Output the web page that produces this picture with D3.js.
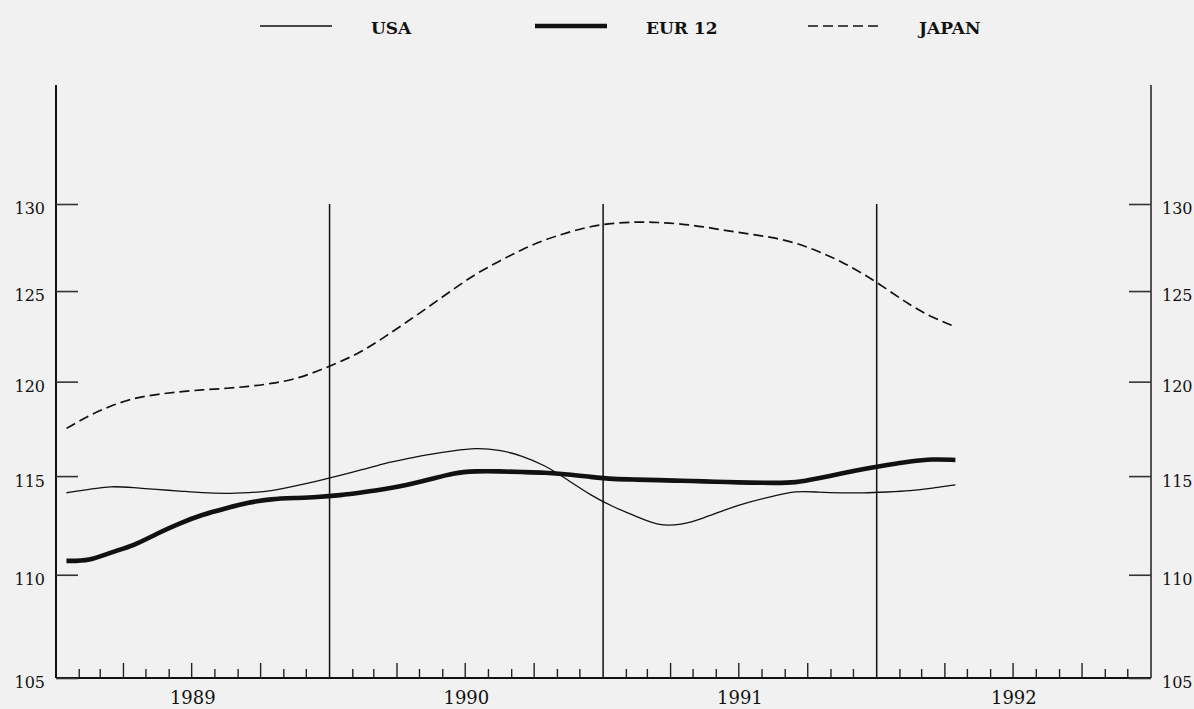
<!DOCTYPE html>
<html>
<head>
<meta charset="utf-8">
<script src="https://cdn.jsdelivr.net/npm/d3@7"></script>
<style>
  body { margin: 0; background: #f1f1f1; }
  svg { display: block; }
  text { font-family: "DejaVu Serif", "Liberation Serif", serif; fill: #111; }
</style>
</head>
<body>
<svg id="chart" width="1194" height="709"></svg>
<script>
// monthly index values, Jan 1989 - Apr 1992
var startMonth = new Date(1989, 0, 15);
var usa = [114.14, 114.32, 114.49, 114.40, 114.31, 114.23, 114.14, 114.09, 114.14, 114.22, 114.48, 114.74,
           115.03, 115.35, 115.66, 115.91, 116.14, 116.32, 116.47, 116.38, 116.06, 115.57, 114.80, 114.02,
           113.40, 112.92, 112.45, 112.49, 112.84, 113.31, 113.67, 113.96, 114.24, 114.17, 114.13, 114.13,
           114.18, 114.23, 114.37, 114.55];
var eur12 = [110.69, 110.69, 111.12, 111.45, 112.05, 112.58, 113.02, 113.34, 113.65, 113.82, 113.87, 113.91,
             114.01, 114.17, 114.32, 114.55, 114.82, 115.17, 115.26, 115.25, 115.21, 115.18, 115.09, 114.96,
             114.84, 114.82, 114.79, 114.76, 114.73, 114.69, 114.66, 114.65, 114.65, 114.88, 115.14, 115.37,
             115.58, 115.77, 115.89, 115.84];
var japan = [117.50, 118.21, 118.70, 119.12, 119.31, 119.46, 119.56, 119.63, 119.74, 119.89, 120.12, 120.55,
             121.07, 121.67, 122.43, 123.29, 124.17, 125.10, 125.98, 126.68, 127.38, 127.92, 128.35, 128.70,
             128.89, 128.96, 128.93, 128.84, 128.68, 128.44, 128.26, 128.06, 127.75, 127.27, 126.67, 125.96,
             125.10, 124.19, 123.53, 123.00];
var seriesNames = ["USA", "EUR 12", "JAPAN"];
var yTicks = [105, 110, 115, 120, 125, 130];
var years = [1989, 1990, 1991, 1992];

var svg = d3.select("#chart"),
    plotLeft = 56, plotRight = 1151, plotTop = 85, plotBottom = 678;

svg.append("rect")
    .attr("width", 1194).attr("height", 709)
    .attr("fill", "#f1f1f1");

var x = d3.scaleTime()
    .domain([new Date(years[0], 0, 1), new Date(years[years.length - 1] + 1, 0, 1)])
    .range([plotLeft, plotRight]);

// the index axis is logarithmic
var y = d3.scaleLog()
    .domain([105, 130])
    .range([plotBottom, 204]);

var styles = {
  "USA":    {width: 1.3, dash: null},
  "EUR 12": {width: 4.6, dash: null},
  "JAPAN":  {width: 1.7, dash: "10,5"}
};

var series = [usa, eur12, japan].map(function(vals, k) {
  return {
    name: seriesNames[k],
    values: vals.map(function(v, i) { return {date: d3.timeMonth.offset(startMonth, i), value: v}; })
  };
});

// year dividers
svg.append("g")
  .selectAll("line")
  .data(years.slice(1))
  .enter().append("line")
    .attr("x1", function(d) { return x(new Date(d, 0, 1)); })
    .attr("x2", function(d) { return x(new Date(d, 0, 1)); })
    .attr("y1", y(130))
    .attr("y2", plotBottom)
    .attr("stroke", "#111")
    .attr("stroke-width", 1.5);

// month ticks along the bottom, quarters longer
var months = d3.timeMonth.range(new Date(years[0], 1, 1), x.domain()[1])
    .filter(function(d) { return d.getMonth() != 0; });

svg.append("g")
  .selectAll("line")
  .data(months)
  .enter().append("line")
    .attr("x1", function(d) { return x(d); })
    .attr("x2", function(d) { return x(d); })
    .attr("y1", plotBottom)
    .attr("y2", function(d) { return d.getMonth() % 3 == 0 ? plotBottom - 15 : plotBottom - 9; })
    .attr("stroke", "#222")
    .attr("stroke-width", 1.4);

// frame: left, right and bottom
svg.append("line")
    .attr("x1", plotLeft).attr("x2", plotLeft).attr("y1", plotTop).attr("y2", plotBottom)
    .attr("stroke", "#111").attr("stroke-width", 2);
svg.append("line")
    .attr("x1", plotRight).attr("x2", plotRight).attr("y1", plotTop).attr("y2", plotBottom)
    .attr("stroke", "#111").attr("stroke-width", 1.4);
svg.append("line")
    .attr("x1", plotLeft).attr("x2", plotRight).attr("y1", plotBottom).attr("y2", plotBottom)
    .attr("stroke", "#111").attr("stroke-width", 1.8);

// left and right axes: ticks pointing in, labels outside
var gl = svg.append("g")
    .attr("transform", "translate(" + plotLeft + ",0)")
    .call(d3.axisLeft(y).tickValues(yTicks).tickFormat(d3.format("d"))
      .tickSizeInner(-22).tickSizeOuter(0).tickPadding(11));
var gr = svg.append("g")
    .attr("transform", "translate(" + plotRight + ",0)")
    .call(d3.axisRight(y).tickValues(yTicks).tickFormat(d3.format("d"))
      .tickSizeInner(-22).tickSizeOuter(0).tickPadding(11));

[gl, gr].forEach(function(g) {
  g.select(".domain").remove();
  g.selectAll(".tick line").attr("stroke", "#333").attr("stroke-width", 1.6);
  g.selectAll(".tick text")
      .attr("font-family", "DejaVu Serif Condensed, DejaVu Serif")
      .attr("font-size", 16)
      .attr("dy", "0.62em")
      .attr("fill", "#111");
});

// year labels
svg.append("g")
  .selectAll("text")
  .data(years)
  .enter().append("text")
    .attr("x", function(d) { return (x(new Date(d, 0, 1)) + x(new Date(d + 1, 0, 1))) / 2; })
    .attr("y", 704)
    .attr("text-anchor", "middle")
    .attr("font-size", 18)
    .text(function(d) { return d; });

// series
var line = d3.line()
    .curve(d3.curveBasis)
    .x(function(d) { return x(d.date); })
    .y(function(d) { return y(d.value); });

svg.append("g")
  .selectAll("path")
  .data(series)
  .enter().append("path")
    .attr("d", function(d) { return line(d.values); })
    .attr("fill", "none")
    .attr("stroke", "#111")
    .attr("stroke-width", function(d) { return styles[d.name].width; })
    .attr("stroke-dasharray", function(d) { return styles[d.name].dash; });

// legend
var legendX = [260, 535, 808];
var legend = svg.append("g")
  .selectAll("g")
  .data(seriesNames)
  .enter().append("g")
    .attr("transform", function(d, i) { return "translate(" + legendX[i] + ",26)"; });

legend.append("line")
    .attr("x1", 0).attr("x2", 72)
    .attr("stroke", "#111")
    .attr("stroke-width", function(d) { return styles[d].width; })
    .attr("stroke-dasharray", function(d) { return styles[d].dash; });

legend.append("text")
    .attr("x", 111)
    .attr("dy", "0.45em")
    .attr("font-family", "DejaVu Serif Condensed, DejaVu Serif")
    .attr("font-size", 17)
    .attr("font-weight", "bold")
    .text(function(d) { return d; });
</script>
</body>
</html>
